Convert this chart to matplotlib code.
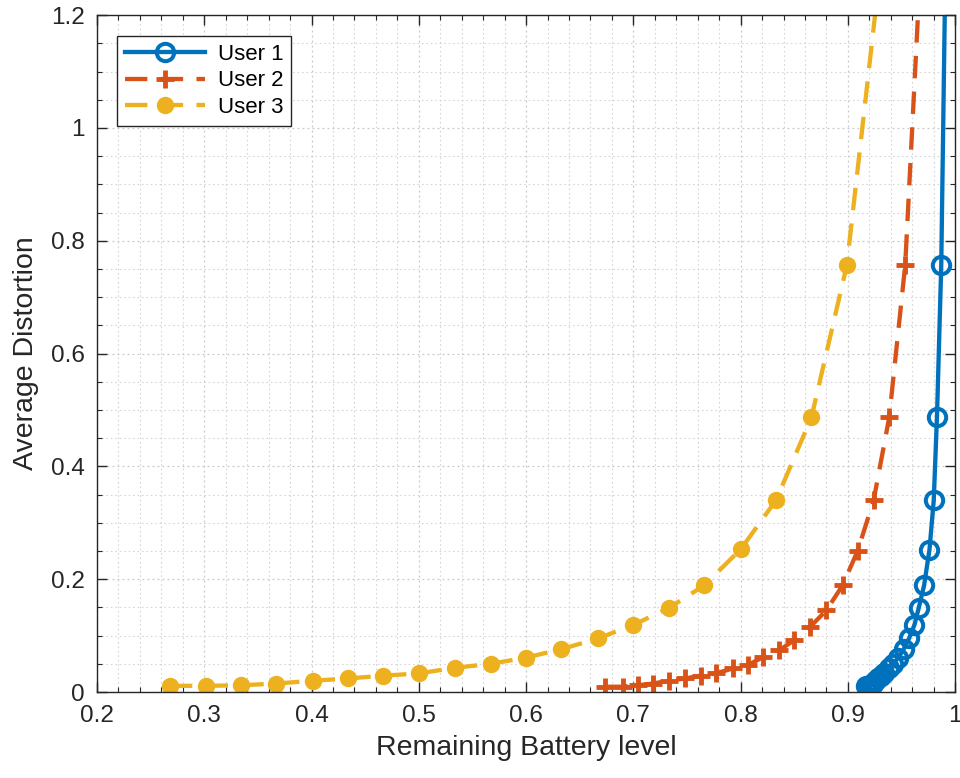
import matplotlib
matplotlib.use("Agg")
import matplotlib.pyplot as plt
from matplotlib.ticker import MultipleLocator

plt.rcParams['font.family'] = ['Liberation Sans', 'DejaVu Sans']

# Remaining battery level (x) and average distortion (y) for each user
user1_battery = [0.917, 0.919, 0.921, 0.923, 0.925, 0.928, 0.931, 0.934, 0.938, 0.942,
                 0.947, 0.952, 0.957, 0.962, 0.966, 0.971, 0.976, 0.980, 0.983, 0.987, 0.991]
user1_distortion = [0.010, 0.011, 0.012, 0.015, 0.019, 0.024, 0.029, 0.034, 0.042, 0.050,
                    0.061, 0.076, 0.095, 0.119, 0.149, 0.189, 0.252, 0.340, 0.487, 0.757, 1.30]

user2_battery = [0.674, 0.690, 0.704, 0.718, 0.733, 0.748, 0.763, 0.777, 0.793, 0.807,
                 0.821, 0.836, 0.850, 0.865, 0.880, 0.895, 0.909, 0.924, 0.9385, 0.9534, 0.968]
user2_distortion = [0.0094, 0.0094, 0.012, 0.015, 0.020, 0.024, 0.029, 0.033, 0.042, 0.048,
                    0.062, 0.074, 0.092, 0.116, 0.145, 0.189, 0.250, 0.340, 0.487, 0.757, 1.30]

user3_battery = [0.268, 0.302, 0.334, 0.367, 0.401, 0.434, 0.467, 0.500, 0.534, 0.567,
                 0.600, 0.633, 0.667, 0.700, 0.733, 0.766, 0.800, 0.833, 0.866, 0.899, 0.933]
user3_distortion = [0.011, 0.011, 0.012, 0.015, 0.020, 0.024, 0.029, 0.033, 0.043, 0.050,
                    0.061, 0.076, 0.095, 0.119, 0.149, 0.189, 0.253, 0.340, 0.487, 0.757, 1.33]

labels = ["User 1", "User 2", "User 3"]
x_ticks = [0.2, 0.3, 0.4, 0.5, 0.6, 0.7, 0.8, 0.9, 1.0]
x_tick_labels = ["0.2", "0.3", "0.4", "0.5", "0.6", "0.7", "0.8", "0.9", "1"]
y_ticks = [0, 0.2, 0.4, 0.6, 0.8, 1.0, 1.2]
y_tick_labels = ["0", "0.2", "0.4", "0.6", "0.8", "1", "1.2"]

c_blue = "#0072BD"
c_red = "#D95319"
c_yellow = "#EDB120"
dark = "#262626"

fig = plt.figure(figsize=(9.6, 7.78), dpi=100)
ax = fig.add_axes([0.101, 0.1105, 0.894, 0.870])

lw = 3.1
ax.plot(user1_battery, user1_distortion, color=c_blue, lw=lw, ls='-',
        marker='o', ms=12.5, mfc='none', mec=c_blue, mew=2.9, label=labels[0])
ax.plot(user2_battery, user2_distortion, color=c_red, lw=lw, dashes=(5.2, 3.1),
        marker='+', ms=13, mec=c_red, mew=3.5, label=labels[1])
ax.plot(user3_battery, user3_distortion, color=c_yellow, lw=lw, dashes=(5.2, 3.1),
        marker='o', ms=11.5, mfc=c_yellow, mec=c_yellow, label=labels[2])

ax.set_xlim(0.2, 1.0)
ax.set_ylim(0, 1.2)
ax.set_xticks(x_ticks)
ax.set_xticklabels(x_tick_labels)
ax.set_yticks(y_ticks)
ax.set_yticklabels(y_tick_labels)
ax.xaxis.set_minor_locator(MultipleLocator(0.02))
ax.yaxis.set_minor_locator(MultipleLocator(0.05))

ax.grid(which='major', color='#c8c8c8', ls=(0, (1.5, 2.5)), lw=0.9)
ax.grid(which='minor', color='#d6d6d6', ls=(0, (1.5, 2.5)), lw=0.8)
ax.set_axisbelow(True)

ax.tick_params(which='both', direction='in', top=True, right=True, colors=dark,
               labelsize=17.5, pad=9)
ax.tick_params(which='major', length=7, width=1.0)
ax.tick_params(which='minor', length=3.5, width=0.8)
for sp in ax.spines.values():
    sp.set_color(dark)
    sp.set_linewidth(1.0)

ax.set_xlabel("Remaining Battery level", fontsize=20.5, color=dark, labelpad=6)
ax.set_ylabel("Average Distortion", fontsize=20.5, color=dark, labelpad=8)

leg = ax.legend(loc='upper left', bbox_to_anchor=(0.0233, 0.969), borderaxespad=0,
                fontsize=16, handlelength=3.6, handletextpad=0.6, labelspacing=0.25,
                borderpad=0.35, fancybox=False, framealpha=1, edgecolor=dark)
leg.get_frame().set_linewidth(1.0)

fig.savefig("out.png", dpi=100)
